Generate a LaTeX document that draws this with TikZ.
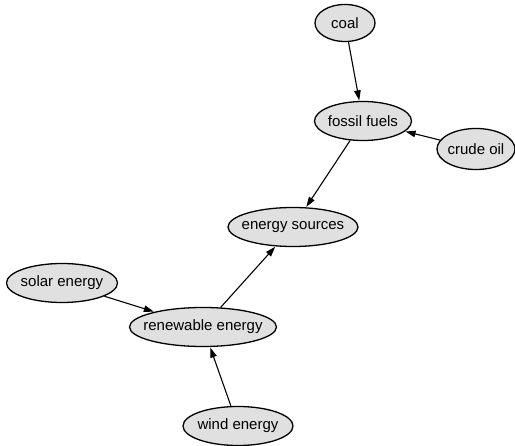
\documentclass[tikz,border=0pt]{standalone}
\usepackage{fontspec}
\setmainfont{Liberation Sans}
\usetikzlibrary{shapes.geometric,arrows.meta}
\newcommand{\ctext}[1]{\makebox[0pt]{#1}}
\begin{document}
\begin{tikzpicture}[x=1pt,y=-1pt,
  concept/.style={ellipse,draw=black,line width=1.3pt,fill=black!12,inner sep=0pt,minimum height=39pt,font=\fontsize{15}{17}\selectfont},
  link/.style={-{Triangle[length=10pt,width=6.5pt]},line width=1.1pt,shorten >=0.5pt}]
\useasboundingbox (0,0) rectangle (515,446);
\node[concept,minimum width=60pt,minimum height=37pt] (coal) at (345,23) {\ctext{coal}};
\node[concept,minimum width=97pt] (fossil) at (363,121) {\ctext{fossil fuels}};
\node[concept,minimum width=78pt,minimum height=41pt] (crude) at (476,149) {\ctext{crude oil}};
\node[concept,minimum width=130pt] (sources) at (293,227) {\ctext{energy sources}};
\node[concept,minimum width=111pt] (solar) at (62,283) {\ctext{solar energy}};
\node[concept,minimum width=147pt] (renew) at (203,327) {\ctext{renewable energy}};
\node[concept,minimum width=110pt] (wind) at (238,426) {\ctext{wind energy}};
\draw[link] (coal) -- (fossil);
\draw[link] (crude) -- (fossil);
\draw[link] (fossil) -- (sources);
\draw[link] (solar) -- (renew);
\draw[link] (wind) -- (renew);
\draw[link] (renew) -- (sources);
\end{tikzpicture}
\end{document}
